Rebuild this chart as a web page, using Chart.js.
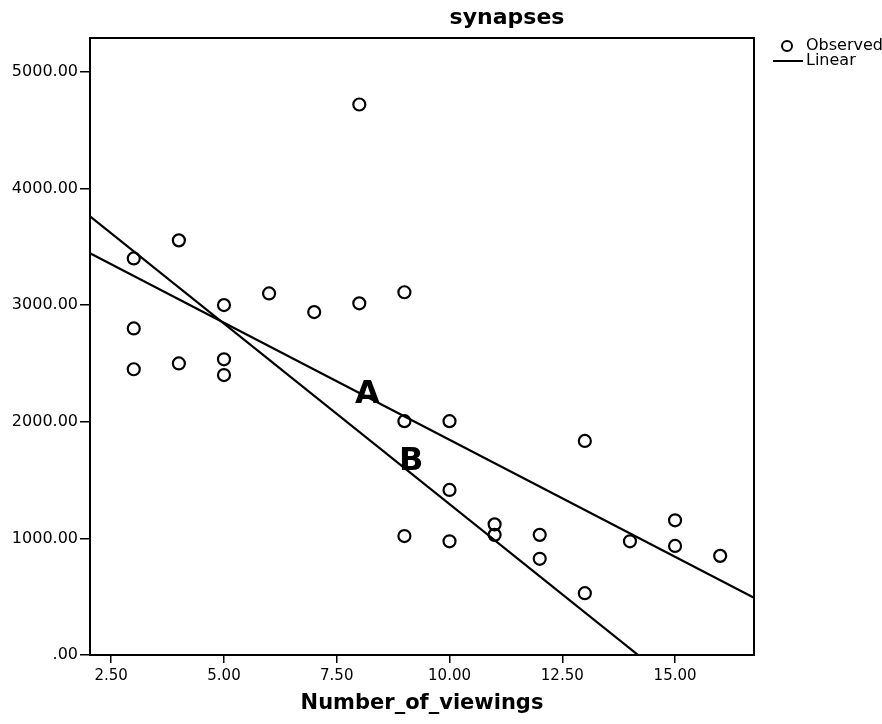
<!doctype html>
<html lang="en">
  <head>
    <meta charset="utf-8">
    <title>synapses</title>
    <style>
      * {
        margin: 0;
        padding: 0;
      }
      body {
        background: white;
      }
    </style>
  </head>
  <body>
    <canvas id="myChart" width="882" height="724"></canvas>
    <script type="text/javascript" src="https://cdn.jsdelivr.net/npm/chart.js"></script>
    <script>

    // observed data
    const viewings = [3, 3, 3, 4, 4, 5, 5, 5, 6, 7, 8, 8, 9, 9, 9, 10, 10, 10, 11, 11, 12, 12, 13, 13, 14, 15, 15, 16];
    const synapses = [3400, 2800, 2450, 3555, 2500, 3000, 2535, 2400, 3100, 2940, 4720, 3015, 3110, 2005, 1020, 2005, 1415, 975, 1120, 1030, 1030, 825, 1835, 530, 975, 1155, 935, 850];

    // linear fits (A and B)
    const fitNames = ['A', 'B'];
    const fitIntercepts = [3852, 4390];
    const fitSlopes = [-200.7, -309.6];

    // tick labels
    const xTicks = [2.5, 5, 7.5, 10, 12.5, 15];
    const yTicks = [0, 1000, 2000, 3000, 4000, 5000];

    const xMin = 2.03, xMax = 16.75;
    const yMin = 0, yMax = 5290;

    // where the A / B letters sit (data units)
    const fitLabelX = [8.18, 9.15];
    const fitLabelY = [2228, 1654];

    const FONT = '"DejaVu Sans", sans-serif';

    const fitDatasets = fitNames.map((name, i) => ({
      type: 'line',
      label: 'Linear ' + name,
      data: [
        { x: xMin, y: fitIntercepts[i] + fitSlopes[i] * xMin },
        { x: xMax, y: fitIntercepts[i] + fitSlopes[i] * xMax }
      ],
      borderColor: '#000',
      borderWidth: 2.2,
      pointRadius: 0,
      fill: false
    }));

    const data = {
      datasets: [
        {
          type: 'scatter',
          label: 'Observed',
          data: viewings.map((v, i) => ({ x: v, y: synapses[i] })),
          pointRadius: 6,
          pointBorderWidth: 2.2,
          borderColor: '#000',
          backgroundColor: 'rgba(0,0,0,0)'
        },
        ...fitDatasets
      ]
    };

    // frame, title, legend and A/B letters
    const extras = {
      id: 'extras',
      afterDraw(chart) {
        const ctx = chart.ctx;
        const a = chart.chartArea;
        const xs = chart.scales.x, ys = chart.scales.y;
        ctx.save();
        ctx.strokeStyle = '#000';
        ctx.lineWidth = 2;
        ctx.strokeRect(a.left, a.top, a.right - a.left, a.bottom - a.top);

        ctx.fillStyle = '#000';
        ctx.textAlign = 'center';
        ctx.textBaseline = 'middle';
        ctx.font = 'bold 22px ' + FONT;
        ctx.fillText('synapses', 507, 18);

        ctx.font = 'bold 32px ' + FONT;
        fitNames.forEach((n, i) => {
          ctx.fillText(n, xs.getPixelForValue(fitLabelX[i]), ys.getPixelForValue(fitLabelY[i]));
        });

        // legend
        ctx.lineWidth = 2;
        ctx.beginPath();
        ctx.arc(787, 46, 5, 0, Math.PI * 2);
        ctx.stroke();
        ctx.beginPath();
        ctx.moveTo(773, 61);
        ctx.lineTo(803, 61);
        ctx.stroke();
        ctx.textAlign = 'left';
        ctx.font = '16px ' + FONT;
        ctx.fillText('Observed', 806, 46);
        ctx.fillText('Linear', 806, 61);
        ctx.restore();
      }
    };

    const config = {
      type: 'scatter',
      data,
      options: {
        responsive: false,
        animation: false,
        layout: {
          padding: { left: 0, top: 38, right: 128, bottom: 0 }
        },
        plugins: {
          legend: { display: false },
          title: { display: false },
          tooltip: { enabled: false }
        },
        scales: {
          x: {
            type: 'linear',
            min: xMin,
            max: xMax,
            afterBuildTicks: (scale) => {
              scale.ticks = xTicks.map(v => ({ value: v }));
            },
            afterFit: (scale) => {
              scale.height = 69;
            },
            ticks: {
              color: '#000',
              padding: 4,
              maxRotation: 0,
              font: { family: FONT, size: 15 },
              callback: (v) => Number(v).toFixed(2)
            },
            grid: {
              drawOnChartArea: false,
              drawTicks: true,
              tickLength: 8,
              color: '#000',
              lineWidth: 1.5
            },
            border: { display: true, color: '#000', width: 2 },
            title: {
              display: true,
              text: 'Number_of_viewings',
              color: '#000',
              font: { family: FONT, size: 21, weight: 'bold' },
              padding: { top: 4, bottom: 8 }
            }
          },
          y: {
            type: 'linear',
            min: yMin,
            max: yMax,
            afterBuildTicks: (scale) => {
              scale.ticks = yTicks.map(v => ({ value: v }));
            },
            afterFit: (scale) => {
              scale.width = 90;
            },
            ticks: {
              color: '#000',
              padding: 2,
              font: { family: FONT, size: 16 },
              callback: (v) => v === 0 ? '.00' : Number(v).toFixed(2)
            },
            grid: {
              drawOnChartArea: false,
              drawTicks: true,
              tickLength: 10,
              color: '#000',
              lineWidth: 1.5
            },
            border: { display: true, color: '#000', width: 2 }
          }
        }
      },
      plugins: [extras]
    };

    const myChart = new Chart(
      document.getElementById('myChart'),
      config
    );
    </script>
  </body>
</html>
